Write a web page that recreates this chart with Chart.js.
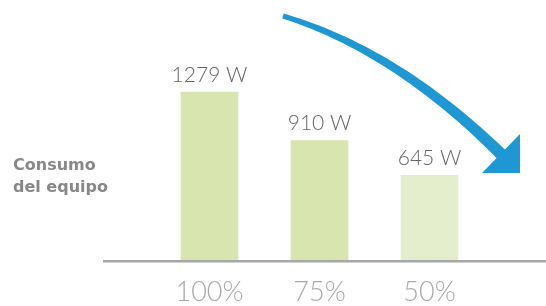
<!DOCTYPE html>
<html>
<head>
    <meta charset="UTF-8">
    <title>Consumo del equipo</title>
    <script src="https://cdn.jsdelivr.net/npm/chart.js"></script>
    <style>
        html, body { margin: 0; padding: 0; background: #fff; }
    </style>
</head>
<body>
    <canvas id="consumoChart" width="546" height="306"></canvas>

    <script>
        var categories = ['100%', '75%', '50%'];
        var watts = [1279, 910, 645];
        var valueLabels = ['1279 W', '910 W', '645 W'];
        var barColors = ['#d9e5ae', '#d9e5ae', '#e5eecc'];
        var sideLabel = ['Consumo', 'del equipo'];

        // value labels, baseline, side title and the blue arrow
        var extras = {
            id: 'extras',
            afterDatasetsDraw: function(chart) {
                var ctx = chart.ctx;
                var meta = chart.getDatasetMeta(0);
                var yZero = chart.scales.y.getPixelForValue(0);

                ctx.save();
                // baseline
                ctx.fillStyle = '#a8a8a8';
                ctx.fillRect(103, yZero, 443, 2.5);

                // values over bars
                ctx.fillStyle = '#666666';
                ctx.font = '300 21px Lato';
                ctx.textAlign = 'center';
                ctx.textBaseline = 'alphabetic';
                meta.data.forEach(function(bar, i) {
                    ctx.fillText(valueLabels[i], bar.x, bar.y - 10);
                });

                // side title
                ctx.fillStyle = '#888888';
                ctx.font = 'bold 16px "DejaVu Sans"';
                ctx.textAlign = 'left';
                ctx.fillText(sideLabel[0], 13, 170);
                ctx.fillText(sideLabel[1], 13, 192);

                // arrow
                var p0 = [283, 16], p1 = [398, 51], p2 = [505, 158];
                var left = [], right = [];
                var n = 40;
                for (var k = 0; k <= n; k++) {
                    var t = k / n;
                    var x = (1-t)*(1-t)*p0[0] + 2*(1-t)*t*p1[0] + t*t*p2[0];
                    var y = (1-t)*(1-t)*p0[1] + 2*(1-t)*t*p1[1] + t*t*p2[1];
                    var dx = 2*(1-t)*(p1[0]-p0[0]) + 2*t*(p2[0]-p1[0]);
                    var dy = 2*(1-t)*(p1[1]-p0[1]) + 2*t*(p2[1]-p1[1]);
                    var len = Math.sqrt(dx*dx + dy*dy);
                    var w = (5 + 7 * t) / 2;
                    left.push([x - dy/len*w, y + dx/len*w]);
                    right.push([x + dy/len*w, y - dx/len*w]);
                }
                ctx.fillStyle = '#1e98d5';
                ctx.beginPath();
                ctx.moveTo(left[0][0], left[0][1]);
                for (var a = 1; a < left.length; a++) ctx.lineTo(left[a][0], left[a][1]);
                for (var b = right.length - 1; b >= 0; b--) ctx.lineTo(right[b][0], right[b][1]);
                ctx.closePath();
                ctx.fill();

                ctx.beginPath();
                ctx.moveTo(482, 173);
                ctx.lineTo(520, 173);
                ctx.lineTo(520, 134);
                ctx.closePath();
                ctx.fill();
                ctx.restore();
            }
        };

        var ctx = document.getElementById('consumoChart').getContext('2d');
        var consumoChart = new Chart(ctx, {
            type: 'bar',
            data: {
                labels: categories,
                datasets: [{
                    data: watts,
                    backgroundColor: barColors,
                    borderWidth: 0,
                    barThickness: 57
                }]
            },
            options: {
                responsive: false,
                animation: false,
                layout: {
                    padding: { left: 154.5, right: 61.5, top: 23.6, bottom: -19 }
                },
                plugins: {
                    legend: { display: false },
                    tooltip: { enabled: false }
                },
                scales: {
                    x: {
                        grid: { display: false, drawTicks: false },
                        border: { display: false },
                        ticks: {
                            color: '#aaaaaa',
                            font: { family: 'Lato', size: 27, weight: '300', lineHeight: 1 },
                            padding: 19
                        }
                    },
                    y: {
                        display: false,
                        min: 0,
                        max: 1800
                    }
                }
            },
            plugins: [extras]
        });
    </script>
</body>
</html>
